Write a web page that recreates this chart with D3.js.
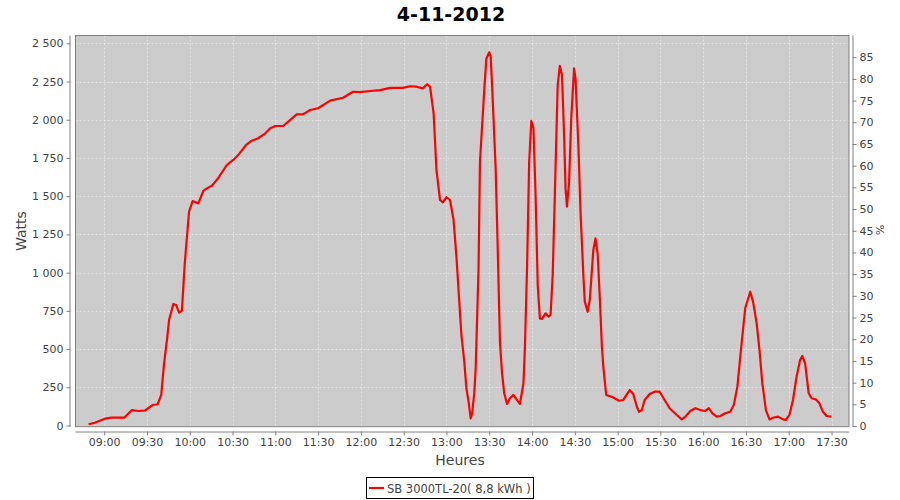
<!DOCTYPE html>
<html>
<head>
<meta charset="utf-8">
<script src="https://cdn.jsdelivr.net/npm/d3@7"></script>
<style>
  html, body { margin: 0; padding: 0; background: #ffffff; }
  svg { display: block; }
  text { font-family: "DejaVu Sans", sans-serif; }
</style>
</head>
<body>
<svg id="chart" width="900" height="500"></svg>
<script>
// ---- data ----
const chartTitle = "4-11-2012";
const seriesName = "SB 3000TL-20( 8,8 kWh )";
const times = [
  "08:49:00","08:53:30","09:00:00","09:05:00","09:14:00","09:19:30","09:24:00","09:28:30","09:34:00","09:37:30",
  "09:40:00","09:42:00","09:44:00","09:45:30","09:48:30","09:50:30","09:52:30","09:54:30","09:56:30","09:59:30",
  "10:02:00","10:06:00","10:09:30","10:12:00","10:15:30","10:19:30","10:26:00","10:30:30","10:34:00","10:39:30",
  "10:43:30","10:48:00","10:52:30","10:56:30","11:00:00","11:05:30","11:15:00","11:19:30","11:24:30","11:30:00",
  "11:38:30","11:47:30","11:54:30","11:59:30","12:06:30","12:13:30","12:20:30","12:29:30","12:34:30","12:39:00",
  "12:43:30","12:46:30","12:48:30","12:51:00","12:53:00","12:55:30","12:57:30","13:00:00","13:02:30","13:05:00",
  "13:07:00","13:09:30","13:10:30","13:12:30","13:14:00","13:15:30","13:17:00","13:18:00","13:19:30","13:20:30",
  "13:22:30","13:23:30","13:26:30","13:28:00","13:30:00","13:31:00","13:32:00","13:34:30","13:36:00","13:37:30",
  "13:39:00","13:40:30","13:42:30","13:44:30","13:47:00","13:49:00","13:51:30","13:54:00","13:55:00","13:56:30",
  "13:58:00","13:59:30","14:01:00","14:02:30","14:04:00","14:05:30","14:07:00","14:09:30","14:11:30","14:13:00",
  "14:14:30","14:16:00","14:18:00","14:19:30","14:21:00","14:22:30","14:23:30","14:24:30","14:26:00","14:27:30",
  "14:29:30","14:30:30","14:32:30","14:34:00","14:36:00","14:37:00","14:39:00","14:40:30","14:42:00","14:43:00",
  "14:44:30","14:46:00","14:47:30","14:49:00","14:50:00","14:52:00","14:56:00","15:01:00","15:04:00","15:08:30",
  "15:11:00","15:13:30","15:15:00","15:17:00","15:19:00","15:22:30","15:26:00","15:29:30","15:33:00","15:36:30",
  "15:41:30","15:45:00","15:47:30","15:51:00","15:54:30","15:58:00","16:01:30","16:04:00","16:06:30","16:09:30",
  "16:12:00","16:15:30","16:19:00","16:21:30","16:24:00","16:26:30","16:29:30","16:33:00","16:35:00","16:37:30",
  "16:39:30","16:41:30","16:44:00","16:46:30","16:49:00","16:52:30","16:56:00","16:58:00","17:00:30","17:03:00",
  "17:05:30","17:08:00","17:09:30","17:11:30","17:14:00","17:16:00","17:19:00","17:21:30","17:24:00","17:26:30",
  "17:30:00"
];
const watts = [
  8,18,43,51,51,101,95,97,134,139,
  200,407,559,690,795,788,738,751,1061,1398,
  1468,1453,1534,1551,1568,1612,1704,1737,1769,1835,
  1863,1879,1907,1944,1959,1959,2035,2037,2064,2075,
  2125,2144,2183,2181,2188,2194,2208,2208,2219,2216,
  2205,2232,2216,2042,1671,1475,1460,1493,1475,1344,
  1104,734,592,417,243,156,47,80,211,374,
  1028,1725,2194,2401,2441,2413,2227,1682,1137,548,
  341,211,141,178,200,173,141,276,505,1028,
  1725,1992,1944,1508,919,701,697,734,712,723,
  984,1508,2227,2353,2293,1900,1551,1431,1595,2009,
  2336,2270,1835,1398,984,810,744,821,1017,1148,
  1224,1126,842,515,385,200,188,162,167,232,
  206,123,90,101,167,206,221,221,167,113,
  69,40,58,95,113,101,95,113,80,58,
  62,80,90,134,254,494,767,875,810,669,
  494,276,101,40,51,58,40,36,69,167,
  319,428,455,407,211,178,171,145,90,62,
  58
];
const xTickLabels = ["09:00","09:30","10:00","10:30","11:00","11:30","12:00","12:30","13:00","13:30",
                     "14:00","14:30","15:00","15:30","16:00","16:30","17:00","17:30"];
const wattTicks = [0,250,500,750,1000,1250,1500,1750,2000,2250,2500];
const pctTicks = [0,5,10,15,20,25,30,35,40,45,50,55,60,65,70,75,80,85];

// ---- layout ----
const svg = d3.select("#chart");
const plot = {left: 75.5, top: 35.5, right: 849, bottom: 426.7};
const day = "2012-11-04T";
const parse = d3.timeParse("%Y-%m-%dT%H:%M:%S");
const parseHM = d3.timeParse("%Y-%m-%dT%H:%M");

const x = d3.scaleTime()
  .domain([parse(day + "08:39:53"), parse(day + "17:42:16")])
  .range([plot.left, plot.right]);
const y = d3.scaleLinear().domain([0, 2500]).range([425.5, 43.3]);
const yR = d3.scaleLinear().domain([0, 85]).range([426, 57.2]);

const data = times.map((t, i) => ({t: parse(day + t), w: watts[i]}));
const xTicks = xTickLabels.map(s => parseHM(day + s));

// plot background
svg.append("rect")
  .attr("x", plot.left).attr("y", plot.top)
  .attr("width", plot.right - plot.left).attr("height", plot.bottom - plot.top)
  .attr("fill", "#cccccc");

// gridlines
const grid = svg.append("g").attr("stroke", "#f2f2f2").attr("stroke-width", 0.6)
  .attr("stroke-dasharray", "2,2");
grid.selectAll("line.v").data(xTicks).join("line")
  .attr("x1", d => Math.round(x(d)) + 0.5).attr("x2", d => Math.round(x(d)) + 0.5)
  .attr("y1", plot.top).attr("y2", plot.bottom);
grid.selectAll("line.h").data(wattTicks).join("line")
  .attr("y1", d => Math.round(y(d)) + 0.5).attr("y2", d => Math.round(y(d)) + 0.5)
  .attr("x1", plot.left).attr("x2", plot.right);

// the series
svg.append("defs").append("clipPath").attr("id", "clip")
  .append("rect").attr("x", plot.left).attr("y", plot.top)
  .attr("width", plot.right - plot.left).attr("height", plot.bottom - plot.top);
svg.append("path").datum(data)
  .attr("clip-path", "url(#clip)")
  .attr("fill", "none").attr("stroke", "#ff0000").attr("stroke-width", 2.2)
  .attr("stroke-linejoin", "round")
  .attr("d", d3.line().x(d => x(d.t)).y(d => y(d.w)));

// plot outline
svg.append("rect")
  .attr("x", plot.left).attr("y", plot.top)
  .attr("width", plot.right - plot.left).attr("height", plot.bottom - plot.top)
  .attr("fill", "none").attr("stroke", "#808080").attr("stroke-width", 1);

const tickColor = "#444444";
function styleAxis(g) {
  g.select(".domain").attr("stroke", "#808080");
  g.selectAll(".tick line").attr("stroke", "#808080");
  g.selectAll(".tick text").attr("fill", tickColor)
    .style("font-family", "'DejaVu Sans', sans-serif").style("font-size", "11px");
}

// x axis
const gx = svg.append("g").attr("transform", "translate(0,431.5)")
  .call(d3.axisBottom(x).tickValues(xTicks).tickFormat(d3.timeFormat("%H:%M"))
    .tickSizeOuter(0).tickSizeInner(4).tickPadding(3));
gx.select(".domain").attr("d", `M${plot.left},0.5H${plot.right}`);
styleAxis(gx);

// left axis
const fmtW = v => d3.format(",")(v).replace(/,/g, " ");
const gy = svg.append("g").attr("transform", "translate(70.5,0)")
  .call(d3.axisLeft(y).tickValues(wattTicks).tickFormat(fmtW)
    .tickSizeOuter(0).tickSizeInner(4).tickPadding(3));
gy.select(".domain").attr("d", `M-0.5,${plot.top}V${plot.bottom}`);
styleAxis(gy);

// right axis
const gr = svg.append("g").attr("transform", "translate(852.5,0)")
  .call(d3.axisRight(yR).tickValues(pctTicks).tickFormat(d3.format("d"))
    .tickSizeOuter(0).tickSizeInner(4).tickPadding(3));
gr.select(".domain").attr("d", `M0.5,${plot.top}V${plot.bottom}`);
styleAxis(gr);

// axis titles
svg.append("text").attr("x", 460).attr("y", 465).attr("text-anchor", "middle")
  .attr("fill", tickColor).style("font-size", "14px").text("Heures");
svg.append("text").attr("transform", "translate(26,231) rotate(-90)")
  .attr("text-anchor", "middle").attr("fill", tickColor).style("font-size", "14px").text("Watts");
svg.append("text").attr("transform", "translate(876,230) rotate(90)")
  .attr("text-anchor", "middle").attr("fill", tickColor).style("font-size", "11px").text("%");

// title
svg.append("text").attr("x", 451).attr("y", 21).attr("text-anchor", "middle")
  .attr("fill", "#000").style("font-size", "19px").style("font-weight", "bold").text(chartTitle);

// legend
const lg = svg.append("g");
lg.append("rect").attr("x", 366.5).attr("y", 477.5).attr("width", 167).attr("height", 21)
  .attr("fill", "#fff").attr("stroke", "#000").attr("stroke-width", 1);
lg.append("line").attr("x1", 369).attr("x2", 384).attr("y1", 488).attr("y2", 488)
  .attr("stroke", "#ff0000").attr("stroke-width", 2.2);
lg.append("text").attr("x", 387).attr("y", 492.5).attr("fill", tickColor)
  .style("font-size", "11.5px").text(seriesName);
</script>
</body>
</html>
